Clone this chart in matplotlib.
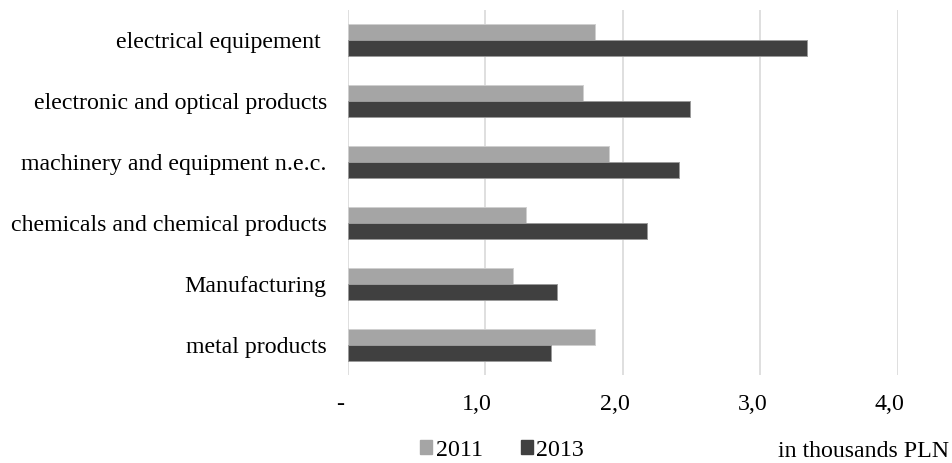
import numpy as np
import matplotlib
matplotlib.use("Agg")
import matplotlib.pyplot as plt
import matplotlib.transforms as mtransforms
from matplotlib.patches import Patch

plt.rcParams['font.family'] = ['Liberation Serif', 'DejaVu Serif']

categories = ["electrical equipement ", "electronic and optical products",
              "machinery and equipment n.e.c.", "chemicals and chemical products",
              "Manufacturing", "metal products"]
v2011 = [1.80, 1.71, 1.90, 1.30, 1.20, 1.80]
v2013 = [3.34, 2.49, 2.41, 2.18, 1.52, 1.48]
xticks = [0, 1, 2, 3, 4]
xticklabels = ["-", "1,0", "2,0", "3,0", "4,0"]

fs = 17.2
fig = plt.figure(figsize=(9.53, 4.63), dpi=100)
ax = fig.add_axes([347.7 / 953, (463 - 375) / 463, 550 / 953, 365 / 463])

y = np.arange(len(categories))
h = 0.263
ax.barh(y - h / 2, v2011, height=h, color="#A5A5A5", edgecolor="#cfcfcf", linewidth=0.7, zorder=3)
ax.barh(y + h / 2, v2013, height=h, color="#404040", edgecolor="#9a9a9a", linewidth=0.7, zorder=3)

ax.set_xlim(0, 4)
ax.set_ylim(len(categories) - 0.5, -0.5)
ax.set_yticks(y)
ax.set_yticklabels(categories, fontsize=fs)
ax.set_xticks(xticks)
ax.set_xticklabels(xticklabels, fontsize=fs)
ax.tick_params(axis='y', length=0, pad=15)
ax.tick_params(axis='x', length=0, pad=14)
for lab in ax.get_xticklabels():
    lab.set_transform(lab.get_transform() + mtransforms.ScaledTranslation(-8 / 100, 0, fig.dpi_scale_trans))

ax.grid(axis='x', color="#D9D9D9", linewidth=1.2, zorder=0)
ax.grid(axis='y', visible=False)
for s in ax.spines.values():
    s.set_visible(False)

handles = [Patch(color="#A5A5A5"), Patch(color="#404040")]
fig.legend(handles, ["2011", "2013"], loc='center', bbox_to_anchor=(502 / 953, 1 - 450 / 463),
           ncol=2, frameon=False, fontsize=fs, handlelength=0.5, handleheight=0.5,
           handletextpad=0.15, columnspacing=1.6)

fig.text(778 / 953, 1 / 463, "in thousands PLN", fontsize=fs, ha='left', va='bottom')

fig.savefig("out.png", dpi=100)
